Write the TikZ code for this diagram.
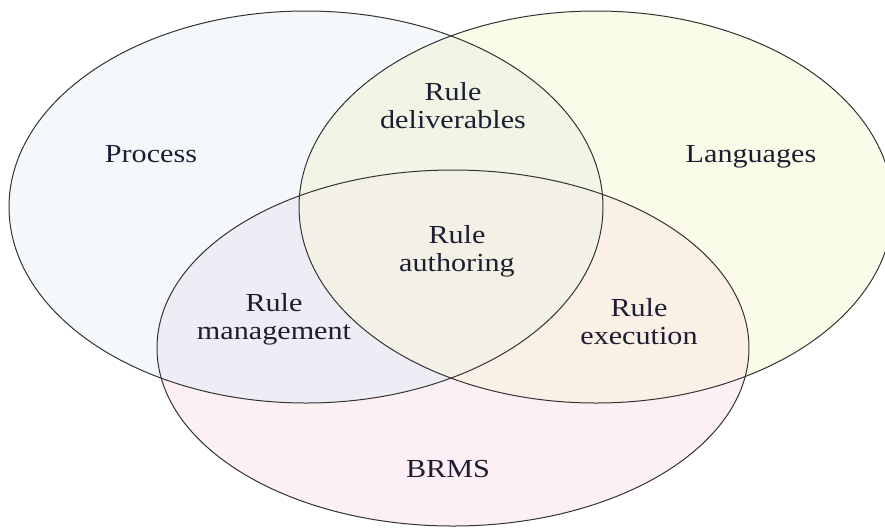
\documentclass[tikz,border=0pt]{standalone}
\usepackage{fontspec}
\setmainfont{Liberation Serif}[FakeStretch=1.16]
\definecolor{procfill}{RGB}{245,248,251}
\definecolor{langfill}{RGB}{251,251,234}
\definecolor{brmsfill}{RGB}{252,240,244}
\definecolor{delfill}{RGB}{240,245,230}
\definecolor{mgmtfill}{RGB}{238,237,245}
\definecolor{execfill}{RGB}{250,240,230}
\definecolor{authfill}{RGB}{243,241,230}
\definecolor{labeltext}{RGB}{30,30,50}
\begin{document}
\begin{tikzpicture}[x=0.5pt,y=-0.5pt]
		\useasboundingbox (0,0) rectangle (885,527);
		\coordinate (P) at (306,207);
		\coordinate (L) at (596,207);
		\coordinate (B) at (453,348);
		
		% the three sets
		\fill[procfill] (P) ellipse [x radius=297, y radius=196];
		\fill[langfill] (L) ellipse [x radius=297, y radius=196];
		\fill[brmsfill] (B) ellipse [x radius=296, y radius=178];
		
		% overlaps
		\begin{scope}
		\clip (P) ellipse [x radius=297, y radius=196];
		\fill[delfill] (L) ellipse [x radius=297, y radius=196];
		\fill[mgmtfill] (B) ellipse [x radius=296, y radius=178];
		\end{scope}
		\begin{scope}
		\clip (L) ellipse [x radius=297, y radius=196];
		\fill[execfill] (B) ellipse [x radius=296, y radius=178];
		\end{scope}
		\begin{scope}
		\clip (P) ellipse [x radius=297, y radius=196];
		\clip (L) ellipse [x radius=297, y radius=196];
		\fill[authfill] (B) ellipse [x radius=296, y radius=178];
		\end{scope}
		
		\begin{scope}[draw=black!80, line width=0.5pt]
		\draw (P) ellipse [x radius=297, y radius=196];
		\draw (L) ellipse [x radius=297, y radius=196];
		\draw (B) ellipse [x radius=296, y radius=178];
		\end{scope}
		
		\begin{scope}[every node/.style={text=labeltext, inner sep=0pt,
			align=center, font=\fontsize{13}{14}\selectfont}]
		\node[anchor=base] (process) at (151,162) {Process};
		\node[anchor=base] (languages) at (751,162) {Languages};
		\node[anchor=base] (brms) at (448,477) {BRMS};
		\node[anchor=north] (deliv) at (453,82) {Rule\\deliverables};
		\node[anchor=north] (author) at (457,225) {Rule\\authoring};
		\node[anchor=north] (mgmt) at (274,293) {Rule\\management};
		\node[anchor=north] (exec) at (639,298) {Rule\\execution};
		\end{scope}
\end{tikzpicture}
\end{document}
